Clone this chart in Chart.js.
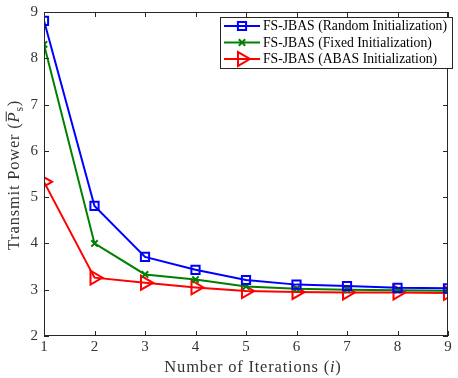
<!DOCTYPE html>
<html lang="en">
<head>
    <meta charset="UTF-8">
    <title>Transmit Power vs Iterations</title>
    <script src="https://cdn.jsdelivr.net/npm/chart.js"></script>
    <style>
        html, body { margin: 0; padding: 0; background: #fff; }
        #wrap { width: 458px; height: 378px; }
    </style>
</head>
<body>
    <div id="wrap"><canvas id="powerChart" width="458" height="378"></canvas></div>

    <script>
        // values
        const iterations = [1, 2, 3, 4, 5, 6, 7, 8, 9];
        const randomInit = [8.81, 4.81, 3.71, 3.43, 3.21, 3.11, 3.08, 3.04, 3.03];
        const fixedInit  = [8.30, 4.00, 3.33, 3.22, 3.07, 3.02, 3.00, 2.99, 2.98];
        const abasInit   = [5.33, 3.26, 3.15, 3.05, 2.97, 2.95, 2.94, 2.94, 2.93];
        const yTicks = [2, 3, 4, 5, 6, 7, 8, 9];
        const seriesNames = [
            'FS-JBAS (Random Initialization)',
            'FS-JBAS (Fixed Initialization)',
            'FS-JBAS (ABAS Initialization)'
        ];

        const serif = '"Liberation Serif", "DejaVu Serif", serif';
        const axisColor = '#262626';

        function toPoints(vals) {
            return iterations.map((x, i) => ({ x: x, y: vals[i] }));
        }

        // draws a run of text pieces (normal / italic / subscript / overline) centred on cx,cy
        function drawRich(ctx, parts, cx, cy, size) {
            ctx.save();
            ctx.textBaseline = 'alphabetic';
            if ('letterSpacing' in ctx) ctx.letterSpacing = '0.8px';
            const fontFor = p => (p.italic ? 'italic ' : '') + (p.sub ? size * 0.7 : size) + 'px ' + serif;
            let total = 0;
            parts.forEach(p => { ctx.font = fontFor(p); p.w = ctx.measureText(p.text).width; total += p.w; });
            let x = cx - total / 2;
            const base = cy + size * 0.33;
            parts.forEach(p => {
                ctx.font = fontFor(p);
                const y = p.sub ? base + size * 0.2 : base;
                ctx.fillText(p.text, x, y);
                if (p.overline) {
                    ctx.strokeStyle = ctx.fillStyle;
                    ctx.lineWidth = 1;
                    ctx.beginPath();
                    ctx.moveTo(x + 1, base - size * 0.8);
                    ctx.lineTo(x + p.w, base - size * 0.8);
                    ctx.stroke();
                }
                x += p.w;
            });
            ctx.restore();
        }

        const titlePlugin = {
            id: 'axisTitles',
            afterDraw(chart) {
                const ctx = chart.ctx;
                ctx.save();
                ctx.fillStyle = '#333';
                drawRich(ctx, [
                    { text: 'Number of Iterations (' },
                    { text: 'i', italic: true },
                    { text: ')' }
                ], 253, 367, 16.5);
                ctx.translate(14, 175);
                ctx.rotate(-Math.PI / 2);
                drawRich(ctx, [
                    { text: 'Transmit Power (' },
                    { text: 'P', italic: true, overline: true },
                    { text: 's', sub: true },
                    { text: ')' }
                ], 0, 0, 16.5);
                ctx.restore();
            }
        };

        // box around the plot + inward ticks on all four sides
        const boxPlugin = {
            id: 'boxTicks',
            afterDatasetsDraw(chart) {
                const { ctx, chartArea: a, scales } = chart;
                ctx.save();
                ctx.strokeStyle = axisColor;
                ctx.lineWidth = 1;
                ctx.strokeRect(a.left + 0.5, a.top + 0.5, a.right - a.left - 1, a.bottom - a.top - 1);
                ctx.beginPath();
                iterations.forEach(v => {
                    const px = Math.round(scales.x.getPixelForValue(v)) + 0.5;
                    ctx.moveTo(px, a.bottom); ctx.lineTo(px, a.bottom - 5);
                    ctx.moveTo(px, a.top); ctx.lineTo(px, a.top + 5);
                });
                yTicks.forEach(v => {
                    const py = Math.round(scales.y.getPixelForValue(v)) + 0.5;
                    ctx.moveTo(a.left, py); ctx.lineTo(a.left + 5, py);
                    ctx.moveTo(a.right, py); ctx.lineTo(a.right - 5, py);
                });
                ctx.stroke();
                ctx.restore();
            }
        };

        // legend drawn inside the plot, top right, with a frame
        const legendPlugin = {
            id: 'innerLegend',
            afterDraw(chart) {
                const ctx = chart.ctx;
                const x0 = 220, y0 = 17, w = 232, h = 51;
                ctx.save();
                ctx.fillStyle = '#fff';
                ctx.fillRect(x0, y0, w, h);
                ctx.strokeStyle = axisColor;
                ctx.lineWidth = 1;
                ctx.strokeRect(x0 + 0.5, y0 + 0.5, w, h);
                chart.data.datasets.forEach((ds, i) => {
                    const cy = y0 + 9 + i * 16.5;
                    ctx.strokeStyle = ds.borderColor;
                    ctx.lineWidth = 2;
                    ctx.beginPath();
                    ctx.moveTo(x0 + 4, cy);
                    ctx.lineTo(x0 + 40, cy);
                    ctx.stroke();
                    ctx.fillStyle = 'rgba(0,0,0,0)';
                    Chart.helpers.drawPoint(ctx, {
                        pointStyle: ds.pointStyle,
                        radius: ds.pointRadius,
                        rotation: ds.pointRotation || 0,
                        borderWidth: 2
                    }, x0 + 22, cy);
                    ctx.fillStyle = '#000';
                    ctx.font = '13.7px ' + serif;
                    ctx.textBaseline = 'middle';
                    ctx.fillText(seriesNames[i], x0 + 43, cy + 0.5);
                });
                ctx.restore();
            }
        };

        const ctx = document.getElementById('powerChart').getContext('2d');
        new Chart(ctx, {
            type: 'line',
            data: {
                datasets: [
                    {
                        label: seriesNames[0],
                        data: toPoints(randomInit),
                        borderColor: '#0000ff',
                        backgroundColor: 'rgba(0,0,0,0)',
                        pointStyle: 'rect',
                        pointRadius: 5.8,
                        pointBorderWidth: 2,
                        borderWidth: 2
                    },
                    {
                        label: seriesNames[1],
                        data: toPoints(fixedInit),
                        borderColor: '#008000',
                        backgroundColor: 'rgba(0,0,0,0)',
                        pointStyle: 'crossRot',
                        pointRadius: 4.5,
                        pointBorderWidth: 2,
                        borderWidth: 2
                    },
                    {
                        label: seriesNames[2],
                        data: toPoints(abasInit),
                        borderColor: '#ff0000',
                        backgroundColor: 'rgba(0,0,0,0)',
                        pointStyle: 'triangle',
                        pointRotation: 90,
                        pointRadius: 8,
                        pointBorderWidth: 2,
                        borderWidth: 2
                    }
                ]
            },
            options: {
                responsive: false,
                animation: false,
                devicePixelRatio: 1,
                layout: { padding: { top: 12, right: 1, left: 0, bottom: 0 } },
                plugins: {
                    legend: { display: false },
                    tooltip: { enabled: false }
                },
                scales: {
                    x: {
                        type: 'linear',
                        min: 1,
                        max: 9,
                        afterFit(s) { s.height = 42; },
                        grid: { display: false, drawTicks: false },
                        border: { display: false },
                        ticks: {
                            stepSize: 1,
                            // small padding keeps the last label from shrinking the plot;
                            // the tall line height moves the labels down instead
                            padding: -1,
                            color: '#333',
                            font: { family: serif, size: 15, lineHeight: 1.6 }
                        },
                        title: { display: false }
                    },
                    y: {
                        min: 2,
                        max: 9,
                        afterFit(s) { s.width = 44; },
                        afterBuildTicks(s) { s.ticks = yTicks.map(v => ({ value: v })); },
                        grid: { display: false, drawTicks: false },
                        border: { display: false },
                        ticks: {
                            padding: 6,
                            color: '#333',
                            font: { family: serif, size: 15, lineHeight: 0.7 }
                        },
                        title: { display: false }
                    }
                }
            },
            plugins: [boxPlugin, legendPlugin, titlePlugin]
        });
    </script>
</body>
</html>
